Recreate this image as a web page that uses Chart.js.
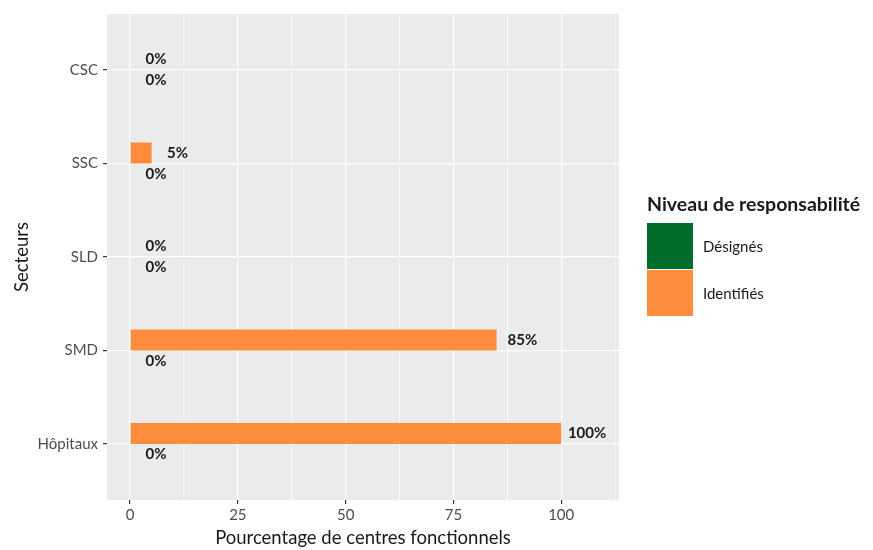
<!DOCTYPE html>
<html>
<head>
<meta charset="utf-8">
<script src="https://cdn.jsdelivr.net/npm/chart.js@4.4.1/dist/chart.umd.min.js"></script>
<style>
    body { margin: 0; background: #fff; font-family: Lato, sans-serif; }
    #cadre { position: relative; width: 873px; height: 550px; }
    #legende { position: absolute; left: 647px; top: 193px; color: #1a1a1a; }
    #legende .titre { font-size: 19.5px; font-weight: bold; height: 30px; line-height: 22px; }
    #legende .item { display: flex; align-items: center; height: 46px; margin-bottom: 1px; font-size: 15px; }
    #legende .carre { width: 46px; height: 46px; margin-right: 10px; }
</style>
</head>
<body>
<div id="cadre">
    <canvas id="grafico" width="873" height="550"></canvas>
    <div id="legende"></div>
</div>
<script>
// donnees
var secteurs = ['CSC', 'SSC', 'SLD', 'SMD', 'Hôpitaux'];
var identifies = [0, 5, 0, 85, 100];
var designes = [0, 0, 0, 0, 0];
var ticksX = [0, 25, 50, 75, 100];
var ticksXMineurs = [12.5, 37.5, 62.5, 87.5, 112.5];

var couleurs = { designes: '#006D2C', identifies: '#FD8D3C' };

// legende en html
var legende = document.getElementById('legende');
legende.innerHTML = '<div class="titre">Niveau de responsabilité</div>' +
    '<div class="item"><div class="carre" style="background:' + couleurs.designes + '"></div>Désignés</div>' +
    '<div class="item"><div class="carre" style="background:' + couleurs.identifies + '"></div>Identifiés</div>';

function points(valeurs) {
    return valeurs.map(function (v, i) { return { x: v, y: i }; });
}

// fond gris du panneau + grille mineure
const fondPanneau = {
    id: 'fondPanneau',
    beforeDraw: function (chart) {
        const ctx = chart.ctx, a = chart.chartArea, sx = chart.scales.x;
        ctx.save();
        ctx.fillStyle = '#EBEBEB';
        ctx.fillRect(a.left, a.top, a.right - a.left, a.bottom - a.top);
        ctx.strokeStyle = '#ffffff';
        ctx.lineWidth = 0.6;
        ticksXMineurs.forEach(function (t) {
            const px = sx.getPixelForValue(t);
            ctx.beginPath();
            ctx.moveTo(px, a.top);
            ctx.lineTo(px, a.bottom);
            ctx.stroke();
        });
        ctx.restore();
    }
};

// etiquettes de valeur
const etiquettes = {
    id: 'etiquettes',
    afterDatasetsDraw: function (chart) {
        const ctx = chart.ctx, sx = chart.scales.x;
        ctx.save();
        ctx.font = 'bold 15px Lato';
        ctx.fillStyle = '#1a1a1a';
        ctx.textAlign = 'center';
        ctx.textBaseline = 'middle';
        chart.data.datasets.forEach(function (ds, di) {
            const meta = chart.getDatasetMeta(di);
            meta.data.forEach(function (barre, i) {
                const v = ds.data[i].x;
                ctx.fillText(v + '%', sx.getPixelForValue(v + 6), barre.y);
            });
        });
        ctx.restore();
    }
};

const ctx = document.getElementById('grafico');

new Chart(ctx, {
    type: 'bar',
    data: {
        datasets: [{
            label: 'Identifiés',
            data: points(identifies),
            backgroundColor: couleurs.identifies,
            borderWidth: 0
        }, {
            label: 'Désignés',
            data: points(designes),
            backgroundColor: couleurs.designes,
            borderWidth: 0
        }]
    },
    options: {
        responsive: false,
        animation: false,
        indexAxis: 'y',
        categoryPercentage: 0.45,
        barPercentage: 1,
        layout: { padding: { top: 10, right: 254, left: 0, bottom: 0 } },
        plugins: {
            legend: { display: false },
            tooltip: { enabled: false }
        },
        scales: {
            x: {
                type: 'linear',
                min: -5.35,
                max: 113.4,
                afterBuildTicks: function (scale) {
                    scale.ticks = ticksX.map(function (v) { return { value: v }; });
                },
                afterFit: function (scale) { scale.height = 50; },
                grid: { color: '#ffffff', lineWidth: 1.2, tickColor: '#333333', tickLength: 4 },
                border: { display: false },
                ticks: { color: '#4D4D4D', font: { family: 'Lato', size: 15 }, padding: 2, maxRotation: 0 },
                title: {
                    display: true,
                    text: 'Pourcentage de centres fonctionnels',
                    color: '#1a1a1a',
                    font: { family: 'Lato', size: 18.5 },
                    padding: { top: 0, bottom: 1 }
                }
            },
            y: {
                type: 'linear',
                reverse: true,
                offset: false,
                min: -0.6,
                max: 4.6,
                afterBuildTicks: function (scale) {
                    scale.ticks = secteurs.map(function (s, i) { return { value: i }; });
                },
                afterFit: function (scale) { scale.width = 107; },
                grid: { offset: false, color: '#ffffff', lineWidth: 1.2, tickColor: '#333333', tickLength: 4 },
                border: { display: false },
                ticks: {
                    color: '#4D4D4D',
                    font: { family: 'Lato', size: 15 },
                    padding: 5,
                    callback: function (v) { return secteurs[v]; }
                },
                title: {
                    display: true,
                    text: 'Secteurs',
                    color: '#1a1a1a',
                    font: { family: 'Lato', size: 18.5 },
                    padding: { top: 11, bottom: 0 }
                }
            }
        }
    },
    plugins: [fondPanneau, etiquettes]
});
</script>
</body>
</html>
